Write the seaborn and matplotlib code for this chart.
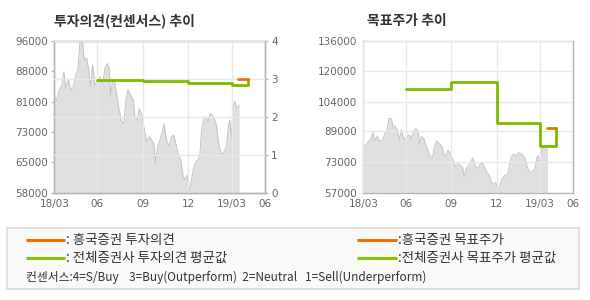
import matplotlib
matplotlib.use('Agg')
import matplotlib.pyplot as plt
import seaborn as sns
import pandas as pd

sns.set_theme(style='white')
plt.rcParams['font.family'] = ['Noto Sans CJK KR', 'DejaVu Sans']

# ---- data ----
price_day = [0, 4.8, 10.3, 15.1, 19.9, 23.3, 28.8, 33.6, 39.1, 44.6, 48.7, 52.8, 58.3, 61.7,
             66.5, 70.0, 74.8, 78.9, 83.7, 88.5, 94.0, 99.5, 104.3, 109.1, 113.2, 115.9, 120.0,
             124.8, 129.6, 133.7, 138.5, 143.3, 147.5, 151.6, 157.1, 162.6, 166.0, 170.8, 174.9,
             179.7, 184.5, 190.0, 195.5, 200.3, 205.1, 208.5, 211.9, 217.4, 222.2, 226.3, 231.1,
             236.6, 241.4, 246.2, 251.7, 256.5, 260.6, 264.1, 268.9, 273.7, 277.8, 282.6, 286.0,
             291.5, 296.3, 299.7, 303.2, 308.0, 312.1, 316.9, 320.3, 325.1, 329.2, 334.0, 338.1,
             342.3, 346.4, 351.2, 354.6, 358.7, 361.5, 364.9, 368.3, 371.7, 376.5, 380.7]
price = [82000, 81170, 83700, 84700, 88250, 84100, 86400, 83700, 84300, 87700, 88700, 95750,
         95500, 91200, 91600, 89500, 84500, 89900, 84900, 85750, 87000, 85300, 89100, 90300,
         89100, 82000, 86300, 85300, 81600, 78700, 75750, 75300, 81200, 83800, 82400, 81200,
         77000, 76200, 79100, 77400, 74500, 70750, 72000, 71200, 70300, 65300, 69100, 71200,
         73250, 75200, 71200, 69500, 72000, 72400, 69500, 67000, 66200, 62800, 61200, 62400,
         58500, 61200, 63700, 65750, 66200, 67400, 73700, 76600, 77000, 75750, 77800, 77400,
         76600, 74900, 70750, 68250, 67400, 68700, 69500, 74900, 76200, 72000, 79500, 80750,
         79100, 79900]

tick_pos = [0, 88, 182, 276, 365, 434]
tick_labels = ['18/03', '06', '09', '12', '19/03', '06']

cons_day = [88, 182, 276, 365, 399]
cons_avg = [2.97, 2.93, 2.89, 2.84, 3.0]
hk_cons_day = [379, 399]
hk_cons = [3.0, 3.0]

tp_day = [89, 182, 277, 365, 398]
tp_avg = [111000, 114500, 93000, 81400, 90800]
hk_tp_day = [379, 398]
hk_tp = [90800, 90800]

left_yticks = [58000, 65600, 73200, 80800, 88400, 96000]
left_ylabels = ['58000', '65000', '73000', '81000', '88000', '96000']
cons_ticks = [0, 1, 2, 3, 4]
right_yticks = [57000, 73000, 89000, 104000, 120000, 136000]

legend_labels = [': 흥국증권 투자의견', ': 전체증권사 투자의견 평균값',
                 ':흥국증권 목표주가', ':전체증권사 목표주가 평균값']
consensus_note = '컨센서스:4=S/Buy    3=Buy(Outperform)  2=Neutral   1=Sell(Underperform)'

ORANGE = '#f07000'
GREEN = '#7cbb00'
LEG_GREEN = '#84c400'
FILL = '#e0e0e0'
EDGE = '#c4c4c4'
SPINE = '#b4b4b4'
GRID = '#e9e9e9'
TXT = '#666666'

df_price = pd.DataFrame({'day': price_day, 'price': price})

fig = plt.figure(figsize=(5.9, 3.0), dpi=100)
W, H = 590, 300


def frame(ax):
    for s in ax.spines.values():
        s.set_color(SPINE)
        s.set_linewidth(1)
    ax.tick_params(colors=SPINE, labelcolor=TXT, labelsize=7.5, length=2.5, width=0.8, pad=2)


# ---- left chart ----
ax1 = fig.add_axes([54.3 / W, 1 - 192.7 / H, 210.7 / W, 152 / H])
ax1.fill_between(df_price['day'], df_price['price'], left_yticks[0], color=FILL, lw=0, zorder=1)
sns.lineplot(data=df_price, x='day', y='price', ax=ax1, color=EDGE, lw=0.7, zorder=1.2)
ax1.set_xlim(tick_pos[0], tick_pos[-1])
ax1.set_ylim(left_yticks[0], left_yticks[-1])
ax1.set_yticks(left_yticks)
ax1.set_yticklabels(left_ylabels, family='DejaVu Sans')
ax1.set_xticks(tick_pos)
ax1.set_xticklabels(tick_labels, family='DejaVu Sans')
ax1.set_axisbelow(False)
ax1.grid(axis='x', color=GRID, lw=1, zorder=1.5)
ax1.grid(axis='y', visible=False)
ax1.set_xlabel('')
ax1.set_ylabel('')
frame(ax1)

ax1r = ax1.twinx()
sns.lineplot(x=cons_day, y=cons_avg, ax=ax1r, color=GREEN, lw=2, drawstyle='steps-post', zorder=3)
sns.lineplot(x=hk_cons_day, y=hk_cons, ax=ax1r, color=ORANGE, lw=2, zorder=3)
ax1r.set_ylim(cons_ticks[0], cons_ticks[-1])
ax1r.set_yticks(cons_ticks)
ax1r.set_yticklabels([str(t) for t in cons_ticks], family='DejaVu Sans')
ax1r.set_axisbelow(False)
ax1r.grid(axis='y', color=GRID, lw=1, zorder=1.5)
ax1r.set_ylabel('')
frame(ax1r)
ax1r.set_xlim(tick_pos[0], tick_pos[-1])

fig.text(54.3 / W, 1 - 20.5 / H, '투자의견(컨센서스) 추이', fontsize=10, fontweight='bold',
         color='#333333', va='center', ha='left')

# ---- right chart ----
ax2 = fig.add_axes([363.3 / W, 1 - 192.7 / H, 210 / W, 152 / H])
ax2.fill_between(df_price['day'], df_price['price'], right_yticks[0], color=FILL, lw=0, zorder=1)
sns.lineplot(data=df_price, x='day', y='price', ax=ax2, color=EDGE, lw=0.7, zorder=1.2)
sns.lineplot(x=tp_day, y=tp_avg, ax=ax2, color=GREEN, lw=2, drawstyle='steps-post', zorder=3)
sns.lineplot(x=hk_tp_day, y=hk_tp, ax=ax2, color=ORANGE, lw=2, zorder=3)
ax2.set_xlim(tick_pos[0], tick_pos[-1])
ax2.set_ylim(right_yticks[0], right_yticks[-1])
ax2.set_yticks(right_yticks)
ax2.set_yticklabels([str(t) for t in right_yticks], family='DejaVu Sans')
ax2.set_xticks(tick_pos)
ax2.set_xticklabels(tick_labels, family='DejaVu Sans')
ax2.set_axisbelow(False)
ax2.grid(True, color=GRID, lw=1, zorder=1.5)
ax2.set_xlabel('')
ax2.set_ylabel('')
frame(ax2)

fig.text(367 / W, 1 - 20.5 / H, '목표주가 추이', fontsize=10, fontweight='bold',
         color='#333333', va='center', ha='left')

# ---- legend box ----
BW, BH = 572.0, 60.7
axl = fig.add_axes([7.3 / W, 1 - 289.0 / H, BW / W, BH / H])
axl.set_facecolor('#f9f9f9')
for s in axl.spines.values():
    s.set_color('#dcdcdc')
    s.set_linewidth(1.2)
axl.set_xlim(0, BW)
axl.set_ylim(BH, 0)
axl.set_xticks([])
axl.set_yticks([])

leg_geom = [(18.7, 57.7, 11.7, ORANGE), (18.7, 57.7, 30.0, LEG_GREEN),
            (349.4, 389.4, 11.7, ORANGE), (349.4, 389.4, 30.0, LEG_GREEN)]
for (x0, x1, y, c), lab in zip(leg_geom, legend_labels):
    axl.plot([x0, x1], [y, y], color=c, lw=2.2, solid_capstyle='butt')
    axl.text(x1 + 1.5, y, lab, fontsize=9.7, color='#333333', va='center', ha='left')

axl.text(18.7, 49.4, consensus_note, fontsize=8.5, color='#333333', va='center', ha='left')

fig.savefig('out.png', dpi=100, facecolor='white')
